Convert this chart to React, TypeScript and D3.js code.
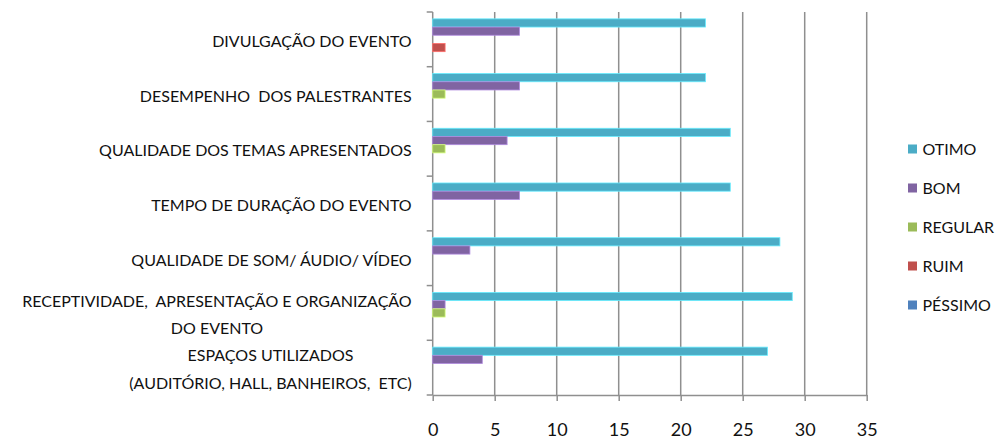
// Horizontal grouped bar chart: event evaluation by item and rating
import React, { useEffect, useRef } from "react"
import * as d3 from "d3"

const categories = [
  ["DIVULGAÇÃO DO EVENTO"],
  ["DESEMPENHO  DOS PALESTRANTES"],
  ["QUALIDADE DOS TEMAS APRESENTADOS"],
  ["TEMPO DE DURAÇÃO DO EVENTO"],
  ["QUALIDADE DE SOM/ ÁUDIO/ VÍDEO"],
  ["RECEPTIVIDADE,  APRESENTAÇÃO E ORGANIZAÇÃO", "DO EVENTO"],
  ["ESPAÇOS UTILIZADOS", "(AUDITÓRIO, HALL, BANHEIROS,  ETC)"],
]

const seriesNames = ["OTIMO", "BOM", "REGULAR", "RUIM", "PÉSSIMO"]
const otimo = [22, 22, 24, 24, 28, 29, 27]
const bom = [7, 7, 6, 7, 3, 1, 4]
const regular = [0, 1, 1, 0, 0, 1, 0]
const ruim = [1, 0, 0, 0, 0, 0, 0]
const pessimo = [0, 0, 0, 0, 0, 0, 0]
const xTicks = [0, 5, 10, 15, 20, 25, 30, 35]

const colors = ["#4bacc6", "#8064a2", "#9bbb59", "#c0504d", "#4f81bd"]
const FONT = "Lato, 'Open Sans', sans-serif"

export default function App() {
  const ref = useRef<SVGSVGElement>(null)

  useEffect(() => {
    document.body.style.margin = "0"
    const values = [otimo, bom, regular, ruim, pessimo]
    const rows = categories.map((_, i) => ({ idx: i, vals: values.map(s => s[i]) }))

    const svg = d3.select(ref.current)
    svg.selectAll("*").remove()

    const left = 432.7, right = 866.7, top = 12, bottom = 395

    const x = d3.scaleLinear().domain([0, 35]).range([left, right])
    const y0 = d3.scaleBand<number>()
      .domain(d3.range(categories.length))
      .range([top, bottom])
      .paddingInner(0.25)
      .paddingOuter(0.125)
    const y1 = d3.scaleBand<number>()
      .domain(d3.range(seriesNames.length))
      .range([0, y0.bandwidth()])

    const grid = "#8f8f8f"

    // vertical gridlines
    svg.append("g")
      .selectAll("line")
      .data(xTicks.slice(1))
      .enter()
      .append("line")
      .attr("x1", d => x(d)).attr("x2", d => x(d))
      .attr("y1", top).attr("y2", bottom)
      .attr("stroke", grid).attr("stroke-width", 1.5)

    // bottom axis
    const xAxis = svg.append("g")
      .attr("transform", `translate(0,${bottom})`)
      .call(d3.axisBottom(x).tickValues(xTicks).tickSize(6).tickSizeOuter(0))
    xAxis.select(".domain").attr("stroke", grid).attr("stroke-width", 1.5)
    xAxis.selectAll(".tick line").attr("stroke", grid).attr("stroke-width", 1.5)
    xAxis.selectAll(".tick text")
      .attr("y", 41)
      .attr("dy", 0)
      .attr("fill", "#111")
      .style("font-family", FONT)
      .style("font-size", "18px")

    // left axis line + separators between categories
    const sepYs = d3.range(categories.length + 1).map(i =>
      i === categories.length ? bottom : (y0(i) as number) - y0.step() * y0.paddingInner() / 2
    )
    svg.append("line")
      .attr("x1", left).attr("x2", left)
      .attr("y1", top).attr("y2", bottom)
      .attr("stroke", grid).attr("stroke-width", 1.5)
    svg.append("g")
      .selectAll("line")
      .data(sepYs)
      .enter()
      .append("line")
      .attr("x1", left - 6).attr("x2", left)
      .attr("y1", d => d).attr("y2", d => d)
      .attr("stroke", grid).attr("stroke-width", 1.5)

    // bars
    const groups = svg.append("g")
      .selectAll("g")
      .data(rows)
      .enter()
      .append("g")
      .attr("transform", d => `translate(0,${y0(d.idx)})`)

    groups.selectAll("rect")
      .data(d => d.vals.map((v, s) => ({ v, s })).filter(e => e.v > 0))
      .enter()
      .append("rect")
      .attr("x", x(0))
      .attr("y", d => y1(d.s) as number)
      .attr("width", d => x(d.v) - x(0))
      .attr("height", y1.bandwidth())
      .attr("fill", d => colors[d.s])
      .attr("stroke", d => d3.color(colors[d.s])!.brighter(0.9).formatHex())
      .attr("stroke-width", 0.8)

    // category labels (multi-line ones are centered in their block)
    const labelRight = 411.7
    const lineH = 27.5
    categories.forEach((lines, i) => {
      const cy = (y0(i) as number) + y0.bandwidth() / 2 + 2
      const g = svg.append("g")
      const texts = lines.map((t, k) =>
        g.append("text")
          .text(t)
          .attr("y", cy + (k - (lines.length - 1) / 2) * lineH)
          .attr("dy", "0.35em")
          .attr("fill", "#111")
          .style("font-family", FONT)
          .style("font-size", "16px")
          .style("white-space", "pre")
      )
      const widths = texts.map(t => (t.node() as SVGTextElement).getComputedTextLength())
      const maxW = d3.max(widths) || 0
      texts.forEach(t => {
        t.attr("x", labelRight - maxW / 2).attr("text-anchor", "middle")
      })
    })

    // legend
    const legend = svg.append("g")
      .selectAll("g")
      .data(seriesNames)
      .enter()
      .append("g")
      .attr("transform", (_, i) => `translate(908,${149 + i * 39})`)
    legend.append("rect")
      .attr("x", 0).attr("y", -4.5)
      .attr("width", 9).attr("height", 9)
      .attr("fill", (_, i) => colors[i])
    legend.append("text")
      .text(d => d)
      .attr("x", 14.5)
      .attr("dy", "0.36em")
      .attr("fill", "#111")
      .style("font-family", FONT)
      .style("font-size", "16px")
  }, [])

  return <svg ref={ref} width={997} height={439} style={{ display: "block", background: "#fff" }}></svg>
}
